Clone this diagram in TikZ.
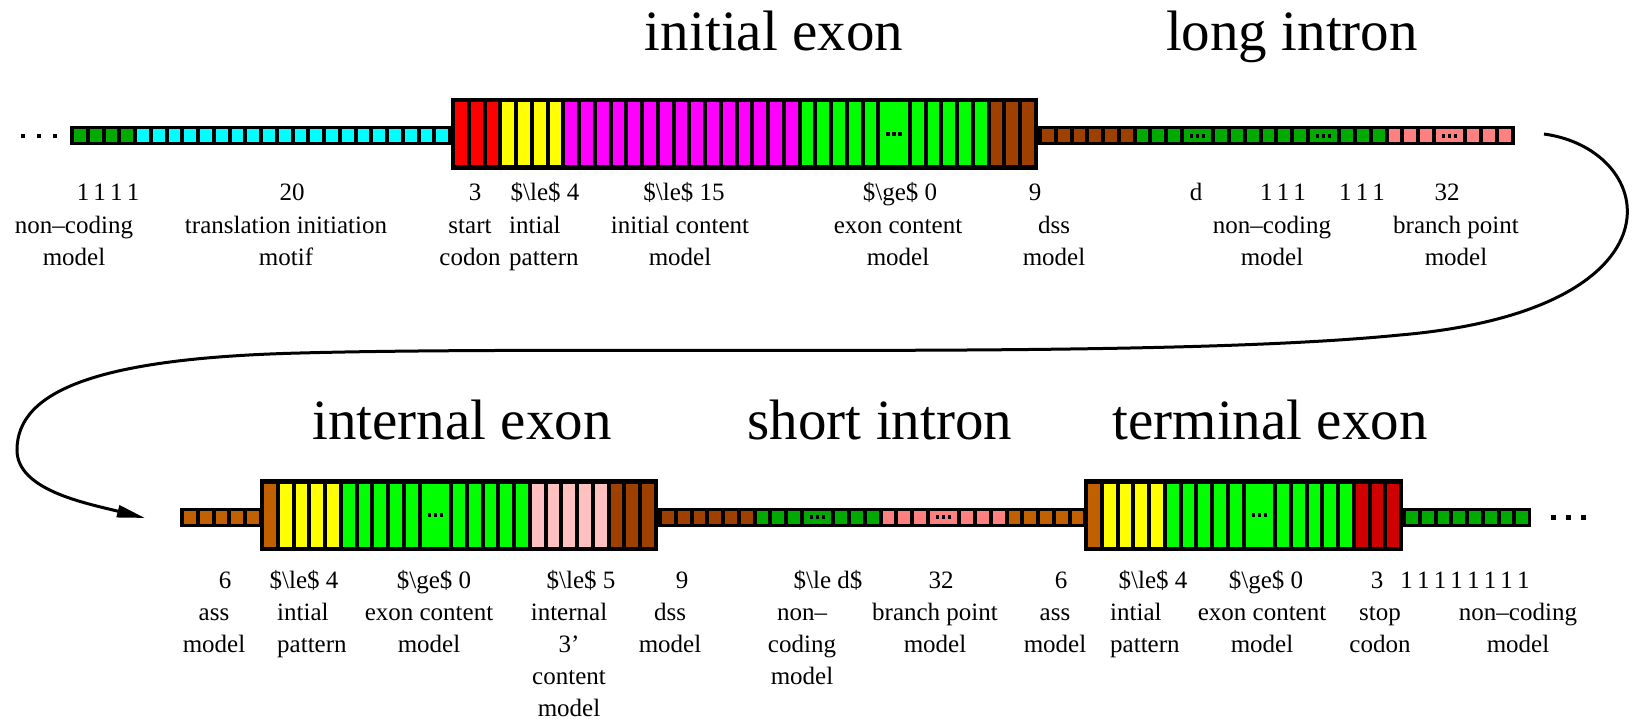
\documentclass[tikz,border=0pt]{standalone}
\usepackage{fontspec}
\setmainfont{Liberation Serif}
\usetikzlibrary{arrows.meta}
\definecolor{ncgreen}{HTML}{00AA00}
\definecolor{tiicyan}{HTML}{00FFFF}
\definecolor{startred}{HTML}{FF0000}
\definecolor{patyellow}{HTML}{FFFF00}
\definecolor{icmag}{HTML}{FF00FF}
\definecolor{exgreen}{HTML}{00FF00}
\definecolor{dssbrown}{HTML}{A04000}
\definecolor{assbrown}{HTML}{C06000}
\definecolor{bppink}{HTML}{FF8080}
\definecolor{icpink}{HTML}{FFC0C0}
\definecolor{stopred}{HTML}{D00000}
\newcommand\pitch{15.75}
\newcommand\tinydots[2]{\foreach \k in {-6,0,6}{\fill[black] (#1+\k-1.75,#2-1.75) rectangle ++(3.5,3.5);}}
\newcommand\cellrow[4]{%
  \xdef\cellx{#1}%
  \foreach \cc/\nn/\uu/\dd in {#4}{%
    \foreach \i in {1,...,\nn}{%
      \pgfmathsetmacro\ww{\uu*\pitch-4}%
      \fill[\cc] (\cellx,#2-#3) rectangle ++(\ww,2*#3);%
      \ifnum\dd=1 \pgfmathsetmacro\mx{\cellx+\ww/2}\tinydots{\mx}{#2}\fi
      \pgfmathsetmacro\nx{\cellx+\uu*\pitch}%
      \xdef\cellx{\nx}%
    }%
  }%
}
\newcommand\lesym{\$\textbackslash le\$}
\newcommand\gesym{\$\textbackslash ge\$}
\begin{document}
\begin{tikzpicture}[x=1pt,y=-1pt,
  ttl/.style={anchor=base, inner sep=0pt, font=\fontsize{57}{60}\selectfont},
  numlbl/.style={anchor=base, inner sep=0pt, font=\fontsize{25}{32}\selectfont},
  lbl/.style={anchor=north, align=center, inner sep=0pt, font=\fontsize{25}{32}\selectfont},
  lbll/.style={anchor=north west, align=left, inner sep=0pt, font=\fontsize{25}{32}\selectfont},
  curve/.style={line width=3pt, -{Triangle[length=28pt,width=12pt]}}]
\useasboundingbox (0,0) rectangle (1651,719);
% titles
\node[ttl] (t1) at (774,51) {initial exon};
\node[ttl] (t2) at (1292,51) {long intron};
\node[ttl] (t3) at (462,439) {internal exon};
\node[ttl] (t4) at (880,439) {short intron};
\node[ttl] (t5) at (1270,439) {terminal exon};
% top row backgrounds
\fill[black] (70,126.5) rectangle (453,145.5);
\fill[black] (1036,126.5) rectangle (1514.5,145.5);
\fill[black] (451,98) rectangle (1038,170);
\cellrow{74}{136}{6.5}{ncgreen/4/1/0, tiicyan/20/1/0}
\cellrow{455}{134}{31.5}{startred/3/1/0, patyellow/4/1/0, icmag/15/1/0, exgreen/5/1/0, exgreen/1/2/1, exgreen/5/1/0, dssbrown/3/1/0}
\cellrow{1042}{136}{6.5}{dssbrown/6/1/0, ncgreen/3/1/0, ncgreen/1/2/1, ncgreen/6/1/0, ncgreen/1/2/1, ncgreen/3/1/0, bppink/3/1/0, bppink/1/2/1, bppink/3/1/0}
\foreach \x in {23,39,55}{\fill[black] (\x-2.25,133.75) rectangle ++(4.5,4.5);}
% bottom row backgrounds
\fill[black] (180,507.5) rectangle (262,526.5);
\fill[black] (656,507.5) rectangle (1087,526.5);
\fill[black] (1401,507.5) rectangle (1531,526.5);
\fill[black] (260,479) rectangle (658,551);
\fill[black] (1084,479) rectangle (1403,551);
\cellrow{184}{517}{6.5}{assbrown/5/1/0}
\cellrow{264}{515}{31.5}{assbrown/1/1/0, patyellow/4/1/0, exgreen/5/1/0, exgreen/1/2/1, exgreen/5/1/0, icpink/5/1/0, dssbrown/3/1/0}
\cellrow{662}{517}{6.5}{dssbrown/6/1/0, ncgreen/3/1/0, ncgreen/1/2/1, ncgreen/3/1/0, bppink/3/1/0, bppink/1/2/1, bppink/3/1/0, assbrown/5/1/0}
\cellrow{1088}{515}{31.5}{assbrown/1/1/0, patyellow/4/1/0, exgreen/5/1/0, exgreen/1/2/1, exgreen/5/1/0, stopred/3/1/0}
\cellrow{1406}{517}{6.5}{ncgreen/8/1/0}
\foreach \x in {1553,1568,1583}{\fill[black] (\x-2.5,514.5) rectangle ++(5,5);}
% connector
\coordinate (cstart) at (1544,134);
\coordinate (cend) at (145,518);
\draw[curve] (cstart) .. controls (1660,150) and (1690,310) .. (1400,335)
  .. controls (1150,360) and (600,345) .. (300,353)
  .. controls (100,358) and (17,390) .. (17,450)
  .. controls (17,490) and (85,503) .. (cend);
% top labels
\node[numlbl] (a1) at (108,201) {1\,1\,1\,1};
\node[numlbl] (a2) at (292,201) {20};
\node[numlbl] (a3) at (475,201) {3};
\node[numlbl] (a4) at (545,201) {\lesym{} 4};
\node[numlbl] (a5) at (684,201) {\lesym{} 15};
\node[numlbl] (a6) at (900,201) {\gesym{} 0};
\node[numlbl] (a7) at (1035,201) {9};
\node[numlbl] (a8) at (1196,201) {d};
\node[numlbl] (a9) at (1283,201) {1\,1\,1};
\node[numlbl] (a10) at (1362,201) {1\,1\,1};
\node[numlbl] (a11) at (1447,201) {32};
\node[lbl] (b1) at (74,210.6) {\strut non--coding\\model};
\node[lbl] (b2) at (286,210.6) {\strut translation initiation\\motif};
\node[lbl] (b3) at (470,210.6) {\strut start\\codon};
\node[lbll] (b4) at (509,210.6) {\strut intial\\pattern};
\node[lbl] (b5) at (680,210.6) {\strut initial content\\model};
\node[lbl] (b6) at (898,210.6) {\strut exon content\\model};
\node[lbl] (b7) at (1054,210.6) {\strut dss\\model};
\node[lbl] (b8) at (1272,210.6) {\strut non--coding\\model};
\node[lbl] (b9) at (1456,210.6) {\strut branch point\\model};
% bottom labels
\node[numlbl] (c1) at (225,588) {6};
\node[numlbl] (c2) at (304,588) {\lesym{} 4};
\node[numlbl] (c3) at (434,588) {\gesym{} 0};
\node[numlbl] (c4) at (581,588) {\lesym{} 5};
\node[numlbl] (c5) at (682,588) {9};
\node[numlbl] (c6) at (828,588) {\$\textbackslash le d\$};
\node[numlbl] (c7) at (941,588) {32};
\node[numlbl] (c8) at (1061,588) {6};
\node[numlbl] (c9) at (1153,588) {\lesym{} 4};
\node[numlbl] (c10) at (1266,588) {\gesym{} 0};
\node[numlbl] (c11) at (1377,588) {3};
\node[numlbl] (c12) at (1465,588) {1\,1\,1\,1\,1\,1\,1\,1};
\node[lbl] (d1) at (214,597.6) {\strut ass\\model};
\node[lbll] (d2) at (277,597.6) {\strut intial\\pattern};
\node[lbl] (d3) at (429,597.6) {\strut exon content\\model};
\node[lbl] (d4) at (569,597.6) {\strut internal\\3'\\content\\model};
\node[lbl] (d5) at (670,597.6) {\strut dss\\model};
\node[lbl] (d6) at (802,597.6) {\strut non--\\coding\\model};
\node[lbl] (d7) at (935,597.6) {\strut branch point\\model};
\node[lbl] (d8) at (1055,597.6) {\strut ass\\model};
\node[lbll] (d9) at (1110,597.6) {\strut intial\\pattern};
\node[lbl] (d10) at (1262,597.6) {\strut exon content\\model};
\node[lbl] (d11) at (1380,597.6) {\strut stop\\codon};
\node[lbl] (d12) at (1518,597.6) {\strut non--coding\\model};
\end{tikzpicture}
\end{document}
